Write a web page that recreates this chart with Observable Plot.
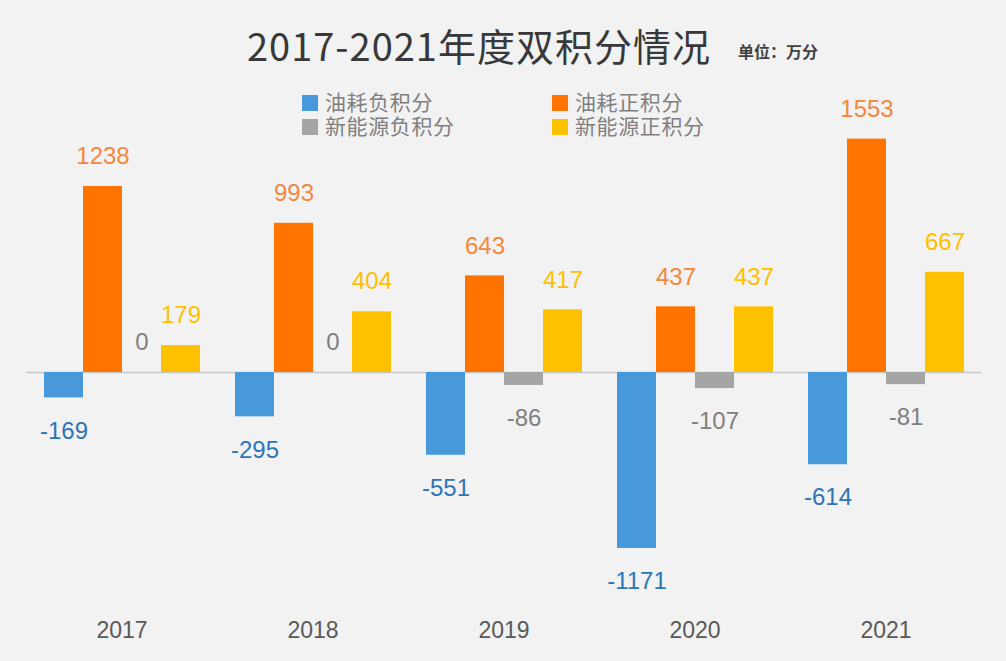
<!DOCTYPE html>
<html>
<head>
<meta charset="utf-8">
<script src="https://cdn.jsdelivr.net/npm/d3@7"></script>
<script src="https://cdn.jsdelivr.net/npm/@observablehq/plot@0.6"></script>
<style>
  html, body { margin: 0; padding: 0; background: #f2f2f2; width: 1006px; height: 661px; overflow: hidden; }
  #wrap { position: relative; width: 1006px; height: 661px; }
  #chart { position: absolute; left: 0; top: 0; }
  .title { position: absolute; left: 247px; top: 25px; font-family: "Noto Sans CJK SC", sans-serif; font-size: 38px; letter-spacing: 1px; line-height: 40px; color: #383838; white-space: nowrap; }
  .unit { position: absolute; left: 738px; top: 41px; font-family: "Noto Sans CJK SC", sans-serif; font-size: 16px; font-weight: bold; line-height: 20px; color: #404040; white-space: nowrap; }
  .legend { position: absolute; font-family: "Noto Sans CJK SC", sans-serif; font-size: 21px; letter-spacing: 0.6px; line-height: 22px; height: 22px; color: #7f7f7f; white-space: nowrap; }
  .legend .sw { display: inline-block; width: 16px; height: 16px; margin-right: 7px; vertical-align: -1px; }
</style>
</head>
<body>
<div id="wrap">
  <div id="chart"></div>
  <div class="title">2017-2021年度双积分情况</div>
  <div class="unit">单位：万分</div>
  <div id="legend"></div>
</div>
<script>
const years = ["2017", "2018", "2019", "2020", "2021"];
const seriesNames = ["油耗负积分", "油耗正积分", "新能源负积分", "新能源正积分"];
const fuelNegative = [-169, -295, -551, -1171, -614];
const fuelPositive = [1238, 993, 643, 437, 1553];
const nevNegative = [0, 0, -86, -107, -81];
const nevPositive = [179, 404, 417, 437, 667];
const barColors = ["#4799dc", "#ff7400", "#a5a5a5", "#ffc000"];
const labelColors = ["#2e75b6", "#f2883e", "#7f7f7f", "#ffc000"];

const seriesValues = [fuelNegative, fuelPositive, nevNegative, nevPositive];
const data = [];
years.forEach((year, i) => {
  seriesNames.forEach((s, j) => {
    data.push({ year, series: s, idx: j, value: seriesValues[j][i] });
  });
});

const marks = [
  Plot.ruleY([0], { stroke: "#c8c8c8", strokeWidth: 1.5, insetLeft: -17, insetRight: -17 })
];
seriesNames.forEach((s, j) => {
  const rows = data.filter(d => d.idx === j);
  marks.push(Plot.barY(rows, { fx: "year", x: "series", y: "value", fill: barColors[j] }));
  marks.push(Plot.text(rows.filter(d => d.value >= 0), {
    fx: "year", x: "series", y: "value", text: d => String(d.value),
    fill: labelColors[j], dy: -30, fontSize: 24
  }));
  marks.push(Plot.text(rows.filter(d => d.value < 0), {
    fx: "year", x: "series", y: "value", text: d => String(d.value),
    fill: labelColors[j], dy: 33, fontSize: 24
  }));
});
marks.push(Plot.text(years, {
  fx: d => d, text: d => d, frameAnchor: "bottom", dy: 25, fontSize: 23, fill: "#595959"
}));

const chart = Plot.plot({
  width: 1006,
  height: 661,
  marginLeft: 26,
  marginRight: 25,
  marginTop: 131.6,
  marginBottom: 48.6,
  style: { background: "transparent", fontFamily: "'Liberation Sans', Arial, sans-serif" },
  fx: { domain: years, paddingInner: 0.178, paddingOuter: 0.089, axis: null, label: null },
  x: { domain: seriesNames, padding: 0, axis: null },
  y: { domain: [-1600, 1600], axis: null },
  marks
});
document.getElementById("chart").appendChild(chart);

// legend
const legendPos = [
  { left: 302, top: 90 },
  { left: 552, top: 90 },
  { left: 302, top: 114 },
  { left: 552, top: 114 }
];
const legendEl = document.getElementById("legend");
seriesNames.forEach((s, j) => {
  const div = document.createElement("div");
  div.className = "legend";
  div.style.left = legendPos[j].left + "px";
  div.style.top = legendPos[j].top + "px";
  const sw = document.createElement("span");
  sw.className = "sw";
  sw.style.background = barColors[j];
  div.appendChild(sw);
  div.appendChild(document.createTextNode(s));
  legendEl.appendChild(div);
});
</script>
</body>
</html>
